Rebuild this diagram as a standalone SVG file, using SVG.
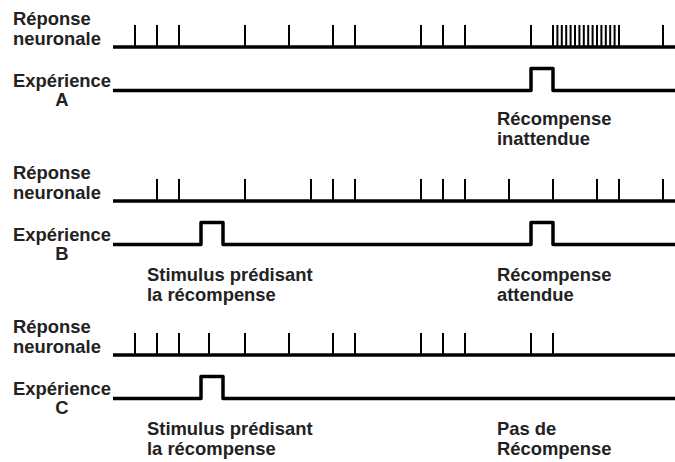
<svg xmlns="http://www.w3.org/2000/svg" width="675" height="462" viewBox="0 0 675 462">
<style>
text{font-family:"Liberation Sans",Arial,sans-serif;font-weight:bold;font-size:18.4px;fill:#222}
.base{stroke:#000;stroke-width:3.5;fill:none}
.spk{stroke:#000;stroke-width:2;fill:none}
.exp{stroke:#000;stroke-width:3.5;fill:none;stroke-linejoin:round}
.mid{text-anchor:middle}
</style>
<rect width="675" height="462" fill="#fff"/>
<g id="labels">
<text x="13" y="24.5">Réponse</text><text x="13" y="44.5">neuronale</text>
<text x="62" y="86.5" class="mid">Expérience</text><text x="62" y="106" class="mid">A</text>
<text x="13" y="178.5">Réponse</text><text x="13" y="198.5">neuronale</text>
<text x="62" y="240.5" class="mid">Expérience</text><text x="62" y="260" class="mid">B</text>
<text x="13" y="332.5">Réponse</text><text x="13" y="352.5">neuronale</text>
<text x="62" y="394.5" class="mid">Expérience</text><text x="62" y="414" class="mid">C</text>
</g>
<g id="rowA">
<path class="base" d="M113 47H675"/>
<path class="spk" d="M135 25V47M157 25V47M179 25V47M245 25V47M289 25V47M333 25V47M355 25V47M421 25V47M443 25V47M465 25V47M531 25V47M663 25V47"/>
<path class="spk" stroke-width="1.6" d="M553 25V47M557.4 25V47M561.8 25V47M566.2 25V47M570.6 25V47M575 25V47M579.4 25V47M583.8 25V47M588.2 25V47M592.6 25V47M597 25V47M601.4 25V47M605.8 25V47M610.2 25V47M614.6 25V47M619 25V47"/>
<path class="exp" d="M113 90.5H531V68.5H553V90.5H675"/>
<text x="497" y="125">Récompense</text><text x="497" y="145">inattendue</text>
</g>
<g id="rowB">
<path class="base" d="M113 201H675"/>
<path class="spk" d="M157 179V201M179 179V201M245 179V201M311 179V201M333 179V201M355 179V201M421 179V201M443 179V201M465 179V201M509 179V201M553 179V201M597 179V201M619 179V201M663 179V201"/>
<path class="exp" d="M113 244.5H201V222.5H223V244.5H531V222.5H553V244.5H675"/>
<text x="147" y="281">Stimulus prédisant</text><text x="147" y="301">la récompense</text>
<text x="497" y="281">Récompense</text><text x="497" y="301">attendue</text>
</g>
<g id="rowC">
<path class="base" d="M113 355H675"/>
<path class="spk" d="M135 333V355M157 333V355M179 333V355M209 333V355M245 333V355M289 333V355M333 333V355M355 333V355M421 333V355M443 333V355M465 333V355M531 333V355M553 333V355"/>
<path class="exp" d="M113 398.5H201V376.5H223V398.5H675"/>
<text x="147" y="435">Stimulus prédisant</text><text x="147" y="455">la récompense</text>
<text x="497" y="435">Pas de</text><text x="497" y="455">Récompense</text>
</g>
</svg>
